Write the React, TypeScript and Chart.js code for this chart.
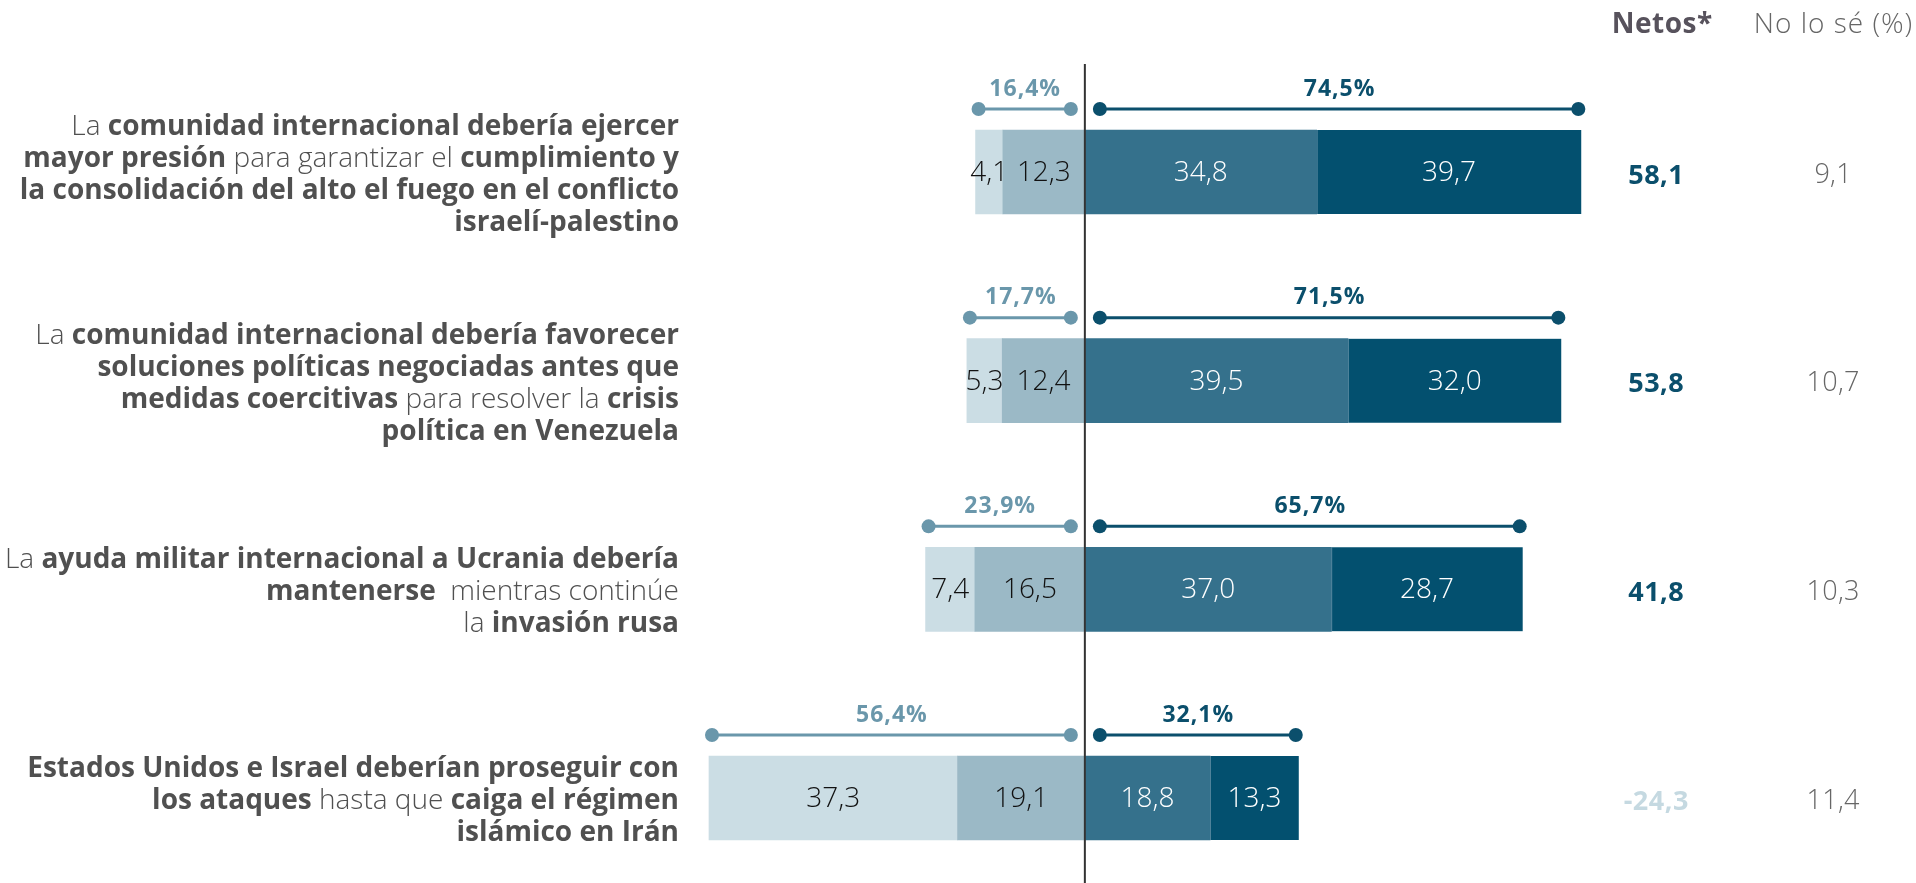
import { useEffect, useRef } from 'react';
import { Chart, registerables } from 'chart.js';

Chart.register(...registerables);

// ---------- DATA ----------
const statementLines: string[][] = [
  [
    'La **comunidad internacional debería ejercer**',
    '**mayor presión** para garantizar el **cumplimiento y**',
    '**la consolidación del alto el fuego en el conflicto**',
    '**israelí-palestino**',
  ],
  [
    'La **comunidad internacional debería favorecer**',
    '**soluciones políticas negociadas antes que**',
    '**medidas coercitivas** para resolver la **crisis**',
    '**política en Venezuela**',
  ],
  [
    'La **ayuda militar internacional a Ucrania debería**',
    '**mantenerse**  mientras continúe',
    'la **invasión rusa**',
  ],
  [
    '**Estados Unidos e Israel deberían proseguir con**',
    '**los ataques** hasta que **caiga el régimen**',
    '**islámico en Irán**',
  ],
];
const categoryKeys = ['Israel-Palestina', 'Venezuela', 'Ucrania', 'Irán'];
const stronglyDisagree = [4.1, 5.3, 7.4, 37.3];
const somewhatDisagree = [12.3, 12.4, 16.5, 19.1];
const somewhatAgree = [34.8, 39.5, 37.0, 18.8];
const stronglyAgree = [39.7, 32.0, 28.7, 13.3];
const disagreeTotals = [16.4, 17.7, 23.9, 56.4];
const agreeTotals = [74.5, 71.5, 65.7, 32.1];
const netValues = [58.1, 53.8, 41.8, -24.3];
const dontKnow = [9.1, 10.7, 10.3, 11.4];
const headerNet = 'Netos*';
const headerDontKnow = 'No lo sé (%)';

// ---------- STYLE ----------
const FAMILY = '"Open Sans", "Noto Sans", sans-serif';
const C_LIGHT = '#cbdde4';
const C_MIDLIGHT = '#9bb9c6';
const C_MIDDARK = '#35718c';
const C_DARK = '#03506f';
const C_NEG_WHISKER = '#6a97ab';
const C_POS_WHISKER = '#0b4f6c';
const C_TEXT = '#505050';

const fmt = (v: number) => v.toFixed(1).replace('.', ',');

function parseSegments(line: string): { text: string; bold: boolean }[] {
  const parts = line.split('**');
  return parts
    .map((t, i) => ({ text: t, bold: i % 2 === 1 }))
    .filter((s) => s.text.length > 0);
}

function setFont(ctx: CanvasRenderingContext2D, font: string, spacing: number) {
  ctx.font = font;
  (ctx as any).letterSpacing = `${spacing}px`;
}

function centerText(ctx: CanvasRenderingContext2D, text: string, cx: number, cy: number, spacing: number) {
  ctx.textAlign = 'center';
  ctx.textBaseline = 'middle';
  ctx.fillText(text, cx + spacing / 2, cy);
}

const overlay = {
  id: 'overlay',
  afterDatasetsDraw(chart: any) {
    const ctx: CanvasRenderingContext2D = chart.ctx;
    const xs = chart.scales.x;
    const ys = chart.scales.y;
    const area = chart.chartArea;
    const x0 = xs.getPixelForValue(0);
    const barHalf = 42;

    ctx.save();

    // values inside bars
    chart.data.datasets.forEach((ds: any, di: number) => {
      const meta = chart.getDatasetMeta(di);
      meta.data.forEach((el: any, i: number) => {
        const v = Math.abs(ds.data[i]);
        const cx = (el.x + el.base) / 2;
        setFont(ctx, `300 28px ${FAMILY}`, 0);
        ctx.fillStyle = di >= 2 ? '#ffffff' : '#111111';
        centerText(ctx, fmt(v), cx, el.y + 1, 0);
      });
    });

    // zero line
    ctx.strokeStyle = '#333333';
    ctx.lineWidth = 2;
    ctx.beginPath();
    ctx.moveTo(x0, 64);
    ctx.lineTo(x0, chart.height);
    ctx.stroke();

    // whiskers
    const drawWhisker = (xa: number, xb: number, yw: number, color: string, label: string) => {
      ctx.strokeStyle = color;
      ctx.fillStyle = color;
      ctx.lineWidth = 3;
      ctx.beginPath();
      ctx.moveTo(xa, yw);
      ctx.lineTo(xb, yw);
      ctx.stroke();
      [xa, xb].forEach((px) => {
        ctx.beginPath();
        ctx.arc(px, yw, 7, 0, Math.PI * 2);
        ctx.fill();
      });
      setFont(ctx, `700 23px ${FAMILY}`, 1);
      centerText(ctx, label, (xa + xb) / 2, yw - 20, 1);
    };

    categoryKeys.forEach((_, i) => {
      const yc = ys.getPixelForValue(i);
      const yw = yc - barHalf - 21;
      const xNegOuter = xs.getPixelForValue(-disagreeTotals[i]) + 3;
      const xPosOuter = xs.getPixelForValue(agreeTotals[i]) - 3;
      drawWhisker(xNegOuter, x0 - 14, yw, C_NEG_WHISKER, fmt(disagreeTotals[i]) + '%');
      drawWhisker(x0 + 15, xPosOuter, yw, C_POS_WHISKER, fmt(agreeTotals[i]) + '%');

      // net values and "no lo sé"
      const netX = area.right + 38;
      const dkX = area.right + 215;
      setFont(ctx, `700 27px ${FAMILY}`, 0.5);
      ctx.fillStyle = netValues[i] >= 0 ? '#0b4f6c' : '#c5d9e1';
      centerText(ctx, fmt(netValues[i]), netX, yc + 4, 0.5);
      setFont(ctx, `300 27px ${FAMILY}`, 0.3);
      ctx.fillStyle = '#666666';
      centerText(ctx, fmt(dontKnow[i]), dkX, yc + 3, 0.3);

      // left statements
      const lines = statementLines[i];
      const lh = 32;
      const rightX = area.left - 6;
      const startY = yc + 3 - ((lines.length - 1) * lh) / 2;
      lines.forEach((line, li) => {
        const segs = parseSegments(line);
        const fontFor = (b: boolean) => `${b ? 700 : 300} 28px ${FAMILY}`;
        let total = 0;
        segs.forEach((s) => {
          setFont(ctx, fontFor(s.bold), 0);
          total += ctx.measureText(s.text).width;
        });
        let x = rightX - total;
        ctx.textAlign = 'left';
        ctx.textBaseline = 'middle';
        ctx.fillStyle = C_TEXT;
        segs.forEach((s) => {
          setFont(ctx, fontFor(s.bold), 0);
          ctx.fillText(s.text, x, startY + li * lh);
          x += ctx.measureText(s.text).width;
        });
      });
    });

    // headers
    setFont(ctx, `700 28px ${FAMILY}`, 0.5);
    ctx.fillStyle = '#57525c';
    centerText(ctx, headerNet, area.right + 44, 25, 0.5);
    setFont(ctx, `300 28px ${FAMILY}`, 1);
    ctx.fillStyle = '#666666';
    centerText(ctx, headerDontKnow, area.right + 215, 25, 1);
    (ctx as any).letterSpacing = '0px';

    ctx.restore();
  },
};

export default function App() {
  const ref = useRef<HTMLCanvasElement>(null);
  useEffect(() => {
    document.body.style.margin = '0';
    const canvas = ref.current!;
    const chart = new Chart(canvas, {
      type: 'bar',
      data: {
        labels: categoryKeys,
        datasets: [
          { label: 'Algo en desacuerdo', data: somewhatDisagree.map((v) => -v), backgroundColor: C_MIDLIGHT },
          { label: 'Muy en desacuerdo', data: stronglyDisagree.map((v) => -v), backgroundColor: C_LIGHT },
          { label: 'Algo de acuerdo', data: somewhatAgree, backgroundColor: C_MIDDARK },
          {
            label: 'Muy de acuerdo',
            data: stronglyAgree,
            backgroundColor: C_DARK,
            borderColor: '#7fa3b5',
            borderWidth: { left: 1, right: 0, top: 0, bottom: 0 },
            borderSkipped: false,
          },
        ],
      },
      options: {
        indexAxis: 'y',
        responsive: false,
        animation: false,
        devicePixelRatio: 1,
        layout: { padding: { left: 685, right: 298, top: 172, bottom: 85 } },
        plugins: { legend: { display: false }, tooltip: { enabled: false } },
        datasets: { bar: { barThickness: 84, clip: false } as any },
        scales: {
          x: { stacked: true, min: -60, max: 80, display: false },
          y: { stacked: true, display: false, offset: false },
        },
      } as any,
      plugins: [overlay],
    });
    return () => chart.destroy();
  }, []);
  return (
    <div style={{ position: 'fixed', left: 0, top: 0, width: 1916, height: 883, background: '#ffffff' }}>
      <canvas ref={ref} width={1916} height={883} style={{ width: 1916, height: 883 }} />
    </div>
  );
}
